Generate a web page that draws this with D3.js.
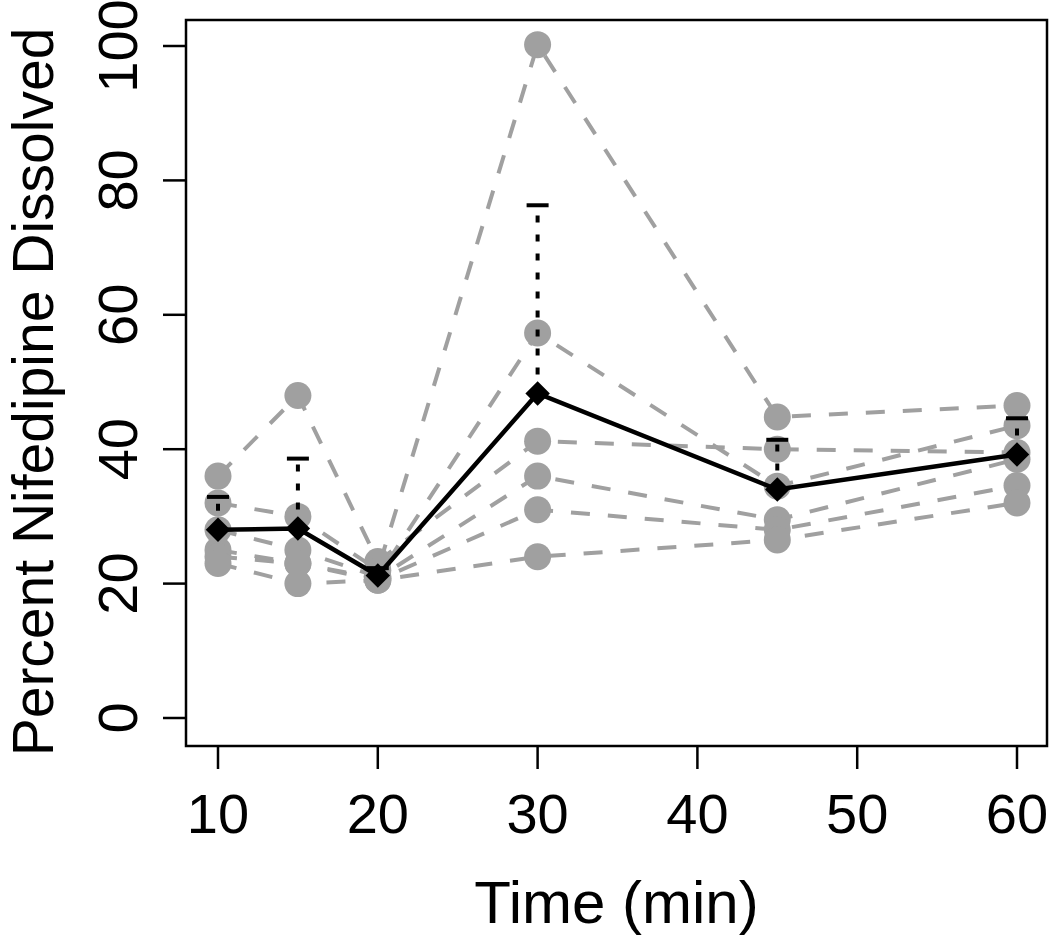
<!DOCTYPE html>
<html>
<head>
<meta charset="utf-8">
<script src="https://cdn.jsdelivr.net/npm/d3@7"></script>
<style>
  html, body { margin: 0; padding: 0; background: #fff; }
  svg { display: block; }
  text { font-family: "Liberation Sans", Arial, Helvetica, sans-serif; fill: #000; }
</style>
</head>
<body>
<svg id="chart" width="1050" height="936"></svg>
<script>
// ---- data ----
const times = [10, 15, 20, 30, 45, 60];
const subject1 = [36, 48, 23.3, 41.2, 40, 39.5];
const subject2 = [32, 30, 22, 100.2, 44.8, 46.5];
const subject3 = [28, 25, 21, 57.3, 34.5, 43.5];
const subject4 = [25, 23, 20.8, 36, 29.5, 38.5];
const subject5 = [24, 23, 20.5, 31, 28, 34.6];
const subject6 = [23, 20, 20.5, 24, 26.5, 32];
const subjects = [subject1, subject2, subject3, subject4, subject5, subject6];
const meanValues = [28, 28.2, 21.2, 48.3, 34, 39.2];
const upperValues = [32.9, 38.6, 22.3, 76.3, 41.4, 44.6];
const xTicks = [10, 20, 30, 40, 50, 60];
const yTicks = [0, 20, 40, 60, 80, 100];
const xTitle = "Time (min)";
const yTitle = "Percent Nifedipine Dissolved";

// ---- layout ----
const box = { left: 186, right: 1047, top: 20, bottom: 746 };
const x = d3.scaleLinear().domain([10, 60]).range([218, 1017]);
const y = d3.scaleLinear().domain([0, 100]).range([718, 46]);

const svg = d3.select("#chart");
const gray = "#a0a0a0";

// individual profiles
const line = d3.line().x((d, i) => x(times[i])).y(d => y(d));
svg.append("g").selectAll("path").data(subjects).join("path")
  .attr("d", d => line(d))
  .attr("fill", "none")
  .attr("stroke", gray)
  .attr("stroke-width", 4)
  .attr("stroke-dasharray", "19,18");

svg.append("g").selectAll("g").data(subjects).join("g")
  .selectAll("circle").data(d => d).join("circle")
  .attr("cx", (d, i) => x(times[i]))
  .attr("cy", d => y(d))
  .attr("r", 13.5)
  .attr("fill", gray);

// error bars (mean + SD)
const eb = svg.append("g");
eb.selectAll("line.v").data(meanValues).join("line")
  .attr("class", "v")
  .attr("x1", (d, i) => x(times[i])).attr("x2", (d, i) => x(times[i]))
  .attr("y1", d => y(d)).attr("y2", (d, i) => y(upperValues[i]))
  .attr("stroke", "#000").attr("stroke-width", 4)
  .attr("stroke-dasharray", "7,12");
eb.selectAll("line.c").data(upperValues).join("line")
  .attr("class", "c")
  .attr("x1", (d, i) => x(times[i]) - 11).attr("x2", (d, i) => x(times[i]) + 11)
  .attr("y1", d => y(d)).attr("y2", d => y(d))
  .attr("stroke", "#000").attr("stroke-width", 4);

// mean line
svg.append("path")
  .attr("d", line(meanValues))
  .attr("fill", "none")
  .attr("stroke", "#000")
  .attr("stroke-width", 4.5);

const diamond = d3.symbol().type(d3.symbolSquare).size(300);
svg.append("g").selectAll("path").data(meanValues).join("path")
  .attr("d", diamond)
  .attr("transform", (d, i) => `translate(${x(times[i])},${y(d)}) rotate(45)`)
  .attr("fill", "#000");

// box
svg.append("rect")
  .attr("x", box.left).attr("y", box.top)
  .attr("width", box.right - box.left).attr("height", box.bottom - box.top)
  .attr("fill", "none").attr("stroke", "#000").attr("stroke-width", 2.5);

// x axis
const xAxis = svg.append("g");
xAxis.selectAll("line").data(xTicks).join("line")
  .attr("x1", d => x(d)).attr("x2", d => x(d))
  .attr("y1", box.bottom).attr("y2", box.bottom + 23)
  .attr("stroke", "#000").attr("stroke-width", 2.5);
xAxis.selectAll("text").data(xTicks).join("text")
  .attr("x", d => x(d)).attr("y", 833)
  .attr("text-anchor", "middle")
  .attr("font-size", 56)
  .text(d => d);

// y axis
const yAxis = svg.append("g");
yAxis.selectAll("line").data(yTicks).join("line")
  .attr("x1", box.left - 23).attr("x2", box.left)
  .attr("y1", d => y(d)).attr("y2", d => y(d))
  .attr("stroke", "#000").attr("stroke-width", 2.5);
yAxis.selectAll("text").data(yTicks).join("text")
  .attr("transform", d => `translate(137,${y(d)}) rotate(-90)`)
  .attr("text-anchor", "middle")
  .attr("font-size", 56)
  .text(d => d);

// titles
svg.append("text")
  .attr("x", (box.left + box.right) / 2).attr("y", 923)
  .attr("text-anchor", "middle")
  .attr("font-size", 60)
  .text(xTitle);
svg.append("text")
  .attr("transform", `translate(53,392) rotate(-90)`)
  .attr("text-anchor", "middle")
  .attr("font-size", 57)
  .text(yTitle);
</script>
</body>
</html>
